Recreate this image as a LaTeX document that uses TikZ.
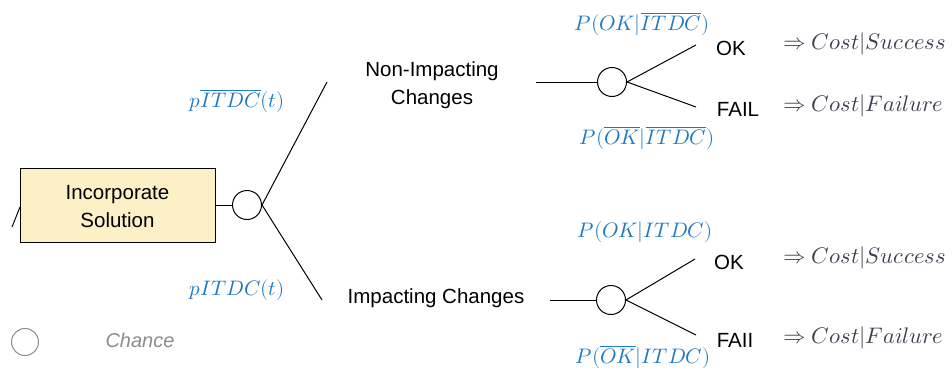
\documentclass[tikz,border=0pt]{standalone}
\usepackage{fontspec}
\usepackage{unicode-math}
\setmainfont{Liberation Sans}
\definecolor{boxfill}{HTML}{FDF0C6}
\definecolor{problue}{HTML}{1F78C4}
\definecolor{costcol}{HTML}{3A3F4E}
\definecolor{legendgray}{HTML}{8C8C8C}
\tikzset{
  lbl/.style={inner sep=0pt, font=\fontsize{20.5}{28}\selectfont, text=black, align=center},
  prob/.style={inner sep=0pt, font=\fontsize{21}{24}\selectfont, text=problue},
  cost/.style={inner sep=0pt, anchor=west, font=\fontsize{22.5}{26}\selectfont, text=costcol},
  chance/.style={circle, draw=black, line width=1pt, minimum size=29pt, inner sep=0pt},
  decbox/.style={draw=black, line width=1pt, fill=boxfill, minimum width=195pt, minimum height=74pt, inner sep=0pt},
  edge/.style={line width=1pt, draw=black}
}
\begin{document}
\begin{tikzpicture}[x=1pt,y=-1pt]
\useasboundingbox (0,0) rectangle (952,372);
% decision node
\coordinate (stubA) at (12,227);
\coordinate (stubB) at (20,207);
\draw[edge] (stubA) -- (stubB);
\node[decbox] (box) at (117.5,205) {};
\node[lbl] (boxtxt) at (117.5,207) {Incorporate\\Solution};
\node[chance] (c0) at (247,205) {};
\draw[edge] (box.east) -- (c0.west);
% main branches
\coordinate (upEnd) at (327,82);
\coordinate (loEnd) at (322,300);
\draw[edge] (c0.east) -- (upEnd);
\draw[edge] (c0.east) -- (loEnd);
\node[prob] (pbar) at (237,101) {$p\overline{ITDC}(t)$};
\node[prob] (p) at (237,290) {$pITDC(t)$};
\node[lbl] (nonimp) at (432,85) {Non-Impacting\\Changes};
\node[lbl] (imp) at (436,298) {Impacting Changes};
% upper sub-tree
\coordinate (u0) at (536,82);
\node[chance] (c1) at (612,82) {};
\draw[edge] (u0) -- (c1.west);
\coordinate (u1) at (696,45);
\coordinate (u2) at (696,107);
\draw[edge] (c1.east) -- (u1);
\draw[edge] (c1.east) -- (u2);
\node[lbl] (ok1) at (731,48) {OK};
\node[lbl] (fail1) at (738,109) {FAIL};
\node[cost] (cs1) at (783,44) {$\Rightarrow Cost|Success$};
\node[cost] (cf1) at (783,106) {$\Rightarrow Cost|Failure$};
\node[prob] (pa) at (642,24) {$P(OK|\overline{ITDC})$};
\node[prob] (pb) at (647,138) {$P(\overline{OK}|\overline{ITDC})$};
% lower sub-tree
\coordinate (l0) at (550,300);
\node[chance] (c2) at (611,300) {};
\draw[edge] (l0) -- (c2.west);
\coordinate (l1) at (695,259);
\coordinate (l2) at (696,335);
\draw[edge] (c2.east) -- (l1);
\draw[edge] (c2.east) -- (l2);
\node[lbl] (ok2) at (729,262) {OK};
\node[lbl] (fail2) at (735,340) {FAII};
\node[cost] (cs2) at (783,258) {$\Rightarrow Cost|Success$};
\node[cost] (cf2) at (783,338) {$\Rightarrow Cost|Failure$};
\node[prob] (pc) at (645,232) {$P(OK|ITDC)$};
\node[prob] (pd) at (643,357) {$P(\overline{OK}|ITDC)$};
% legend
\node[circle, draw=legendgray, line width=1pt, minimum size=27pt, inner sep=0pt] (leg) at (25,342) {};
\node[inner sep=0pt, font=\fontsize{20}{24}\selectfont\itshape, text=legendgray] (legtxt) at (140,340) {Chance};
\end{tikzpicture}
\end{document}
